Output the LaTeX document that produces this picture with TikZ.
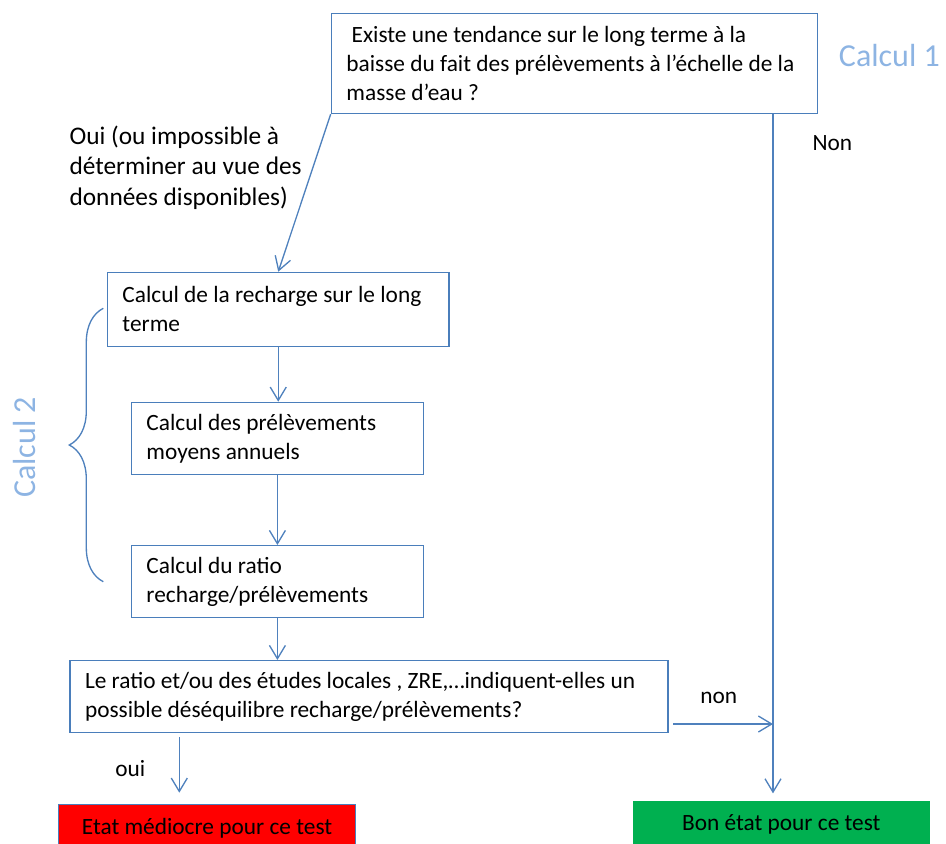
\documentclass[tikz,border=0pt]{standalone}
\usepackage{fontspec}
\setmainfont{Carlito}
\usetikzlibrary{arrows.meta,decorations.pathreplacing}
\definecolor{boxblue}{RGB}{74,126,187}
\definecolor{linkblue}{RGB}{79,129,189}
\definecolor{calcblue}{RGB}{141,180,227}
\definecolor{badred}{RGB}{255,0,0}
\definecolor{goodgreen}{RGB}{0,176,80}
\begin{document}
\begin{tikzpicture}[x=0.75pt,y=-0.75pt,
  box/.style={draw=boxblue,line width=1.1pt,anchor=north west,inner xsep=11.25pt,inner ysep=0pt,align=left,font=\fontsize{17.5}{21.75}\selectfont,execute at begin node={\spaceskip=\fontdimen2\font\relax}},
  endbox/.style={anchor=north west,inner sep=0pt,minimum width=222.5pt,minimum height=35.25pt,align=center,font=\fontsize{17.5}{21.75}\selectfont},
  lbl/.style={inner sep=0pt,font=\fontsize{17.5}{21.75}\selectfont},
  calc/.style={inner sep=0pt,text=calcblue,font=\fontsize{24}{28}\selectfont},
  link/.style={draw=linkblue,line width=1pt,-{Straight Barb[length=10pt,width=12pt]}}]
\useasboundingbox (0,0) rectangle (946,843);
\node[box,text width=342.2pt,minimum height=75pt] (q) at (330.7,12.7) {\ Existe une tendance sur le long terme à la\\baisse du fait des prélèvements à l’échelle de la\\masse d’eau ?};
\node[box,text width=233.7pt,minimum height=55.5pt] (r1) at (106.7,271.7) {Calcul de la recharge sur le long\\terme};
\node[box,text width=196.5pt,minimum height=54.2pt] (r2) at (130.7,401.7) {Calcul des prélèvements\\moyens annuels};
\node[box,text width=196.5pt,minimum height=53.8pt] (r3) at (130.7,545) {Calcul du ratio\\recharge/prélèvements};
\node[box,text width=426pt,minimum height=54pt] (b4) at (69.3,660) {Le ratio et/ou des études locales , ZRE,…indiquent-elles un\\possible déséquilibre recharge/prélèvements?};
\node[endbox,fill=badred,draw=boxblue,line width=0.6pt] (rd) at (58.3,804) {Etat médiocre pour ce test};
\node[endbox,fill=goodgreen] (gd) at (632.7,800.7) {Bon état pour ce test};
\node[calc,anchor=base west] (c1) at (838.7,66.7) {Calcul 1};
\node[calc,rotate=90] (c2) at (25,447.5) {Calcul 2};
\node[lbl,anchor=base west] (non1) at (812.3,150) {Non};
\node[lbl,anchor=west,align=left,font=\fontsize{19}{23}\selectfont] (oui1) at (69.3,167.5) {Oui (ou impossible à\\déterminer au vue des\\données disponibles)};
\node[lbl,anchor=base west] (non2) at (700,703.3) {non};
\node[lbl,anchor=base west] (oui2) at (115,776) {oui};
\coordinate (jn) at (773,724);
\coordinate (ouiA) at (179.3,737.3);
\draw[link] (q.south west) -- (r1.north);
\foreach \u/\v in {r1/r2,r2/r3,r3/b4}
  \draw[link] (\u.south) -- (\u.south |- \v.north);
\draw[link,shorten >=5.5pt] (q.south -| jn) -- (jn |- gd.north);
\draw[link] ([xshift=3.5pt]b4.east |- jn) -- (jn);
\draw[link,shorten >=8.5pt] (ouiA) -- (ouiA |- rd.north);
\draw[linkblue,line width=1pt,decorate,decoration={brace,amplitude=25.5pt}] (103.3,581.7) -- (103.3,308.3);
\end{tikzpicture}
\end{document}
